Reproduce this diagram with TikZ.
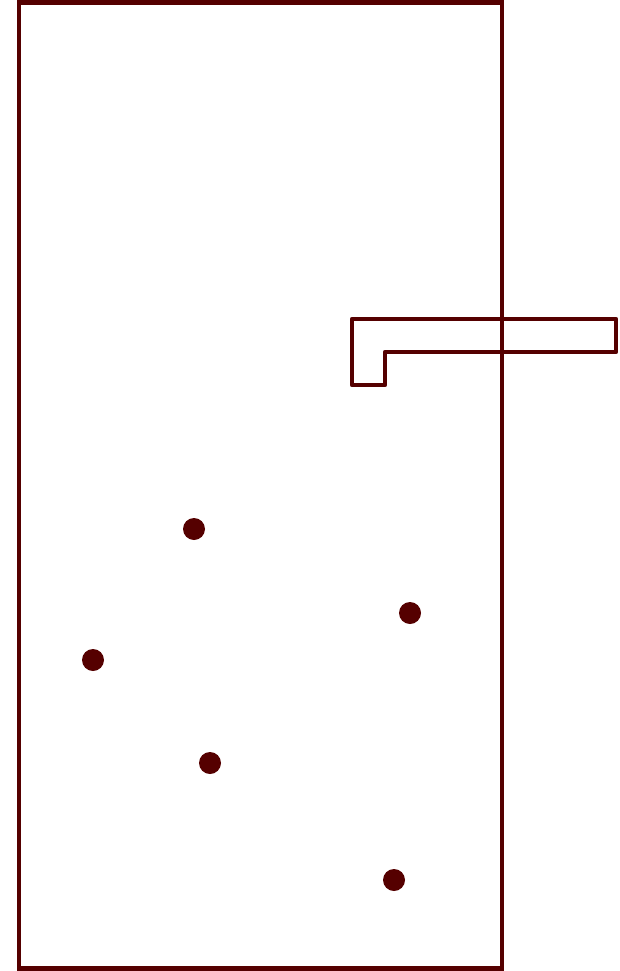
\documentclass[tikz,border=0pt]{standalone}
\definecolor{maroon}{HTML}{550000}
\begin{document}
\begin{tikzpicture}[x=1pt,y=-1pt,
  wall/.style={draw=maroon,line width=4.6pt},
  hook/.style={draw=maroon,line width=4.6pt,line join=round},
  spot/.style={circle,fill=maroon,minimum size=22pt,inner sep=0pt}]
\useasboundingbox (0,0) rectangle (619,971);
\draw[wall] (19,2.5) rectangle (502,968.5);
\draw[hook] (352,319) -- (616,319) -- (616,352) -- (385,352) -- (385,385) -- (352,385) -- cycle;
\node[spot] (d1) at (194,529) {};
\node[spot] (d2) at (410,613) {};
\node[spot] (d3) at (93,660) {};
\node[spot] (d4) at (210,763) {};
\node[spot] (d5) at (394,880) {};
\end{tikzpicture}
\end{document}
